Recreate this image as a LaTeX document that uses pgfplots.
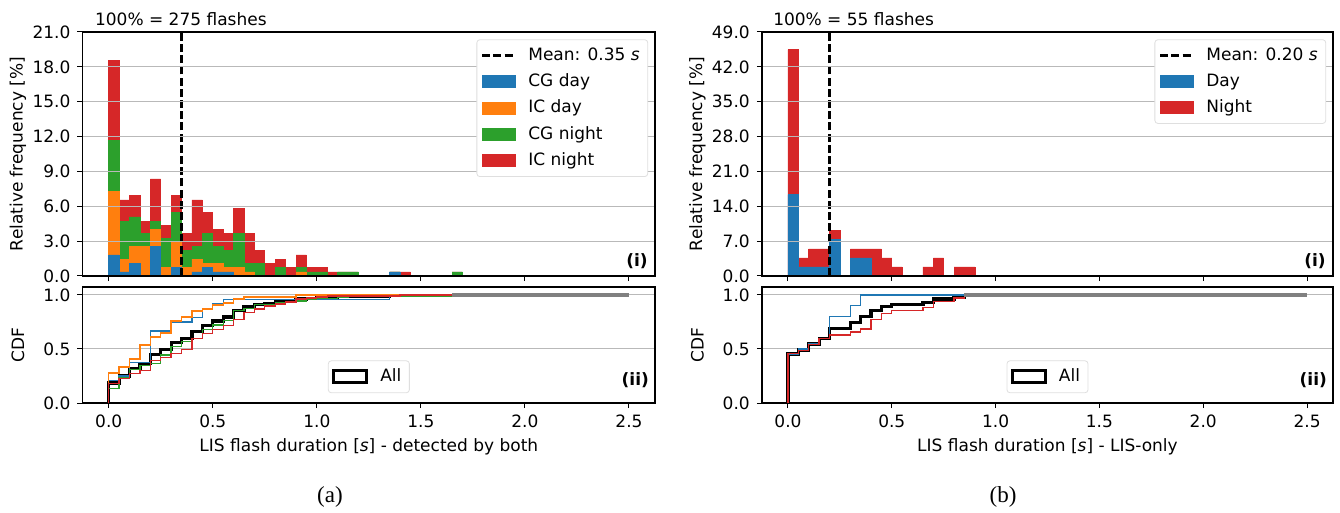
\documentclass[border=0pt]{standalone}
\usepackage{pgfplots}
\usepackage{pgfplotstable}
\pgfplotsset{compat=1.18}
\usepackage{fontspec}
\setmainfont{DejaVu Sans}
\newfontfamily\capfont{Liberation Serif}
\definecolor{tabblue}{HTML}{1F77B4}
\definecolor{taborange}{HTML}{FF7F0E}
\definecolor{tabgreen}{HTML}{2CA02C}
\definecolor{tabred}{HTML}{D62728}
\newcommand\fs{\fontsize{8.5}{10}\selectfont}

% stacked tops (cumulative) of the left histogram, in percent of 275 flashes
\pgfplotstableread{
x      b     bo    bog   tot
0.025  1.82  7.27  11.64 18.55
0.075  0.36  1.45  4.73  6.55
0.125  1.09  2.55  5.09  6.91
0.175  0     2.55  3.64  4.73
0.225  2.55  4.00  4.73  8.36
0.275  0     0.73  3.27  4.36
0.325  0.73  2.91  5.45  6.91
0.375  0     0.73  2.18  3.64
0.425  0.36  1.45  2.55  6.55
0.475  0.73  1.09  3.64  5.45
0.525  0.36  1.09  2.55  4.00
0.575  0.36  0.73  2.18  3.64
0.625  0     0.73  3.64  5.82
0.675  0     0.36  1.09  3.64
0.725  0     0     1.09  2.18
0.775  0     0     0     1.09
0.825  0     0     0.73  1.45
0.875  0     0     0     0.73
0.925  0     0.36  0.73  1.82
0.975  0     0     0.36  0.73
1.025  0     0     0.36  0.73
1.075  0     0     0     0.36
1.125  0     0     0.36  0.36
1.175  0     0     0.36  0.36
1.375  0.36  0.36  0.36  0.36
1.425  0     0     0     0.36
1.675  0     0     0.36  0.36
}\lefthist

% stacked tops of the right histogram, in percent of 55 flashes
\pgfplotstableread{
x      d      tot
0.025  16.36  45.45
0.075  1.82   3.64
0.125  1.82   5.45
0.175  1.82   5.45
0.225  7.27   9.09
0.325  3.64   5.45
0.375  3.64   5.45
0.425  0      5.45
0.475  0      3.64
0.525  0      1.82
0.675  0      1.82
0.725  0      3.64
0.825  0      1.82
0.875  0      1.82
}\righthist

\pgfplotsset{
  mpl/.style={
    scale only axis, anchor=north west, clip=false,
    xmin=-0.125, xmax=2.625,
    xtick={0,0.5,1,1.5,2,2.5},
    tick align=outside, xtick pos=left, ytick pos=left,
    major tick length=2.6pt,
    every tick/.style={black, line width=0.5pt},
    axis line style={line width=0.6pt},
    ymajorgrids, grid style={gray!55, line width=0.5pt},
    tick label style={font=\fs},
    label style={font=\fs},
    /pgf/number format/assume math mode=true,
    /pgf/number format/fixed,
    /pgf/number format/fixed zerofill,
    /pgf/number format/precision=1,
    ylabel style={at={(axis description cs:-0.113,0.5)}, anchor=center},
    legend cell align=left,
    legend style={font=\fs, draw=gray!25, rounded corners=1.5pt, fill=white,
      inner xsep=2pt, inner ysep=2pt, row sep=1.2pt,
      /tikz/every odd column/.append style={column sep=4pt}},
  },
  hist/.style={ybar, bar width=0.05, bar shift=0pt, forget plot, line width=0.3pt},
  cdf/.style={const plot, line width=0.65pt, forget plot},
}

\begin{document}
\begin{tikzpicture}
\path[use as bounding box] (0,0) rectangle (670pt,-256.5pt);

% ---------------- (a) top histogram ----------------
\begin{axis}[mpl, axis on top, at={(41.35pt,-16pt)}, width=286.15pt, height=122pt,
  ymin=0, ymax=21, ytick={0,3,...,21}, xticklabel={\phantom{0}},
  ylabel={Relative frequency [\%]},
  legend style={at={(rel axis cs:0.988,0.97)}, anchor=north east}]
\addplot[hist, fill=tabred, draw=tabred] table[x=x, y=tot] {\lefthist};
\addplot[hist, fill=tabgreen, draw=tabgreen] table[x=x, y=bog] {\lefthist};
\addplot[hist, fill=taborange, draw=taborange] table[x=x, y=bo] {\lefthist};
\addplot[hist, fill=tabblue, draw=tabblue] table[x=x, y=b] {\lefthist};
\addplot[black, line width=1.25pt, dash pattern=on 4pt off 1.6pt, forget plot] coordinates {(0.35,0) (0.35,21)};
\addlegendimage{legend image code/.code={\draw[sharp corners, black, line width=1.25pt, dash pattern=on 4pt off 1.6pt] (0pt,0pt) -- (16.5pt,0pt);}}
\addlegendentry{Mean: 0.35 \textit{s}}
\addlegendimage{legend image code/.code={\fill[sharp corners, tabblue] (0pt,-3pt) rectangle (16.5pt,3pt);}}
\addlegendentry{CG day}
\addlegendimage{legend image code/.code={\fill[sharp corners, taborange] (0pt,-3pt) rectangle (16.5pt,3pt);}}
\addlegendentry{IC day}
\addlegendimage{legend image code/.code={\fill[sharp corners, tabgreen] (0pt,-3pt) rectangle (16.5pt,3pt);}}
\addlegendentry{CG night}
\addlegendimage{legend image code/.code={\fill[sharp corners, tabred] (0pt,-3pt) rectangle (16.5pt,3pt);}}
\addlegendentry{IC night}
\node[anchor=base west, font=\fs, inner sep=0pt] at (rel axis cs:0.021,1.0246) {100\% = 275 flashes};
\node[anchor=east, font=\fs\bfseries, inner sep=0pt] at (rel axis cs:0.988,0.062) {(i)};
\end{axis}

% ---------------- (a) bottom CDF ----------------
\begin{axis}[mpl, at={(41.35pt,-143.5pt)}, width=286.15pt, height=58pt,
  ymin=0, ymax=1.074, ytick={0,0.5,1},
  xlabel={LIS flash duration [\textit{s}] - detected by both},
  xlabel style={at={(axis description cs:0.5,-0.38)}, anchor=center},
  ylabel={CDF},
  legend style={at={(rel axis cs:0.5,0.085)}, anchor=south}]
\addplot[cdf, black, line width=1.6pt] coordinates {(0,0)(0,0.1855)(0.05,0.2509)(0.1,0.32)(0.15,0.3673)(0.2,0.4509)(0.25,0.4945)(0.3,0.5636)(0.35,0.6)(0.4,0.6655)(0.45,0.72)(0.5,0.76)(0.55,0.7964)(0.6,0.8545)(0.65,0.8909)(0.7,0.9127)(0.75,0.9236)(0.8,0.9382)(0.85,0.9455)(0.9,0.9636)(0.95,0.9709)(1.0,0.9782)(1.05,0.9818)(1.1,0.9855)(1.15,0.9891)(1.35,0.9927)(1.4,0.9964)(1.65,1)};
\addplot[cdf, tabblue] coordinates {(0,0)(0,0.2083)(0.05,0.25)(0.1,0.375)(0.2,0.6667)(0.3,0.75)(0.4,0.7917)(0.45,0.875)(0.5,0.9167)(0.55,0.9583)(1.35,1)(2.5,1)};
\addplot[cdf, taborange] coordinates {(0,0)(0,0.2778)(0.05,0.3333)(0.1,0.4074)(0.15,0.5370)(0.2,0.6111)(0.25,0.6481)(0.3,0.7593)(0.35,0.7963)(0.4,0.8519)(0.45,0.8704)(0.5,0.9074)(0.55,0.9259)(0.6,0.9630)(0.65,0.9815)(0.9,1)(2.5,1)};
\addplot[cdf, tabgreen] coordinates {(0,0)(0,0.1333)(0.05,0.2333)(0.1,0.3111)(0.15,0.3444)(0.2,0.3667)(0.25,0.4444)(0.3,0.5222)(0.35,0.5667)(0.4,0.6)(0.45,0.6778)(0.5,0.7222)(0.55,0.7667)(0.6,0.8556)(0.65,0.8778)(0.7,0.9111)(0.8,0.9333)(0.9,0.9444)(0.95,0.9556)(1.0,0.9667)(1.1,0.9778)(1.15,0.9889)(1.65,1)(2.5,1)};
\addplot[cdf, tabred] coordinates {(0,0)(0,0.1776)(0.05,0.2243)(0.1,0.2710)(0.15,0.2991)(0.2,0.3925)(0.25,0.4206)(0.3,0.4579)(0.35,0.4953)(0.4,0.5981)(0.45,0.6449)(0.5,0.6822)(0.55,0.7196)(0.6,0.7757)(0.65,0.8411)(0.7,0.8692)(0.75,0.8972)(0.8,0.9159)(0.85,0.9346)(0.9,0.9626)(0.95,0.9720)(1.0,0.9813)(1.05,0.9907)(1.4,1)(2.5,1)};
\addplot[cdf, gray, line width=1.6pt] coordinates {(1.65,1)(2.5,1)};
\addlegendimage{legend image code/.code={\draw[sharp corners, black, line width=1.5pt] (0pt,-3pt) rectangle (16.5pt,3pt);}}
\addlegendentry{All}
\node[anchor=east, font=\fs\bfseries, inner sep=0pt] at (rel axis cs:0.99,0.2) {(ii)};
\end{axis}

% ---------------- (b) top histogram ----------------
\begin{axis}[mpl, axis on top, at={(381pt,-16pt)}, width=285.5pt, height=122pt,
  ymin=0, ymax=49, ytick={0,7,...,49}, xticklabel={\phantom{0}},
  ylabel={Relative frequency [\%]},
  legend style={at={(rel axis cs:0.988,0.97)}, anchor=north east}]
\addplot[hist, fill=tabred, draw=tabred] table[x=x, y=tot] {\righthist};
\addplot[hist, fill=tabblue, draw=tabblue] table[x=x, y=d] {\righthist};
\addplot[black, line width=1.25pt, dash pattern=on 4pt off 1.6pt, forget plot] coordinates {(0.20,0) (0.20,49)};
\addlegendimage{legend image code/.code={\draw[sharp corners, black, line width=1.25pt, dash pattern=on 4pt off 1.6pt] (0pt,0pt) -- (16.5pt,0pt);}}
\addlegendentry{Mean: 0.20 \textit{s}}
\addlegendimage{legend image code/.code={\fill[sharp corners, tabblue] (0pt,-3pt) rectangle (16.5pt,3pt);}}
\addlegendentry{Day}
\addlegendimage{legend image code/.code={\fill[sharp corners, tabred] (0pt,-3pt) rectangle (16.5pt,3pt);}}
\addlegendentry{Night}
\node[anchor=base west, font=\fs, inner sep=0pt] at (rel axis cs:0.019,1.0246) {100\% = 55 flashes};
\node[anchor=east, font=\fs\bfseries, inner sep=0pt] at (rel axis cs:0.988,0.062) {(i)};
\end{axis}

% ---------------- (b) bottom CDF ----------------
\begin{axis}[mpl, at={(381pt,-143.5pt)}, width=285.5pt, height=58pt,
  ymin=0, ymax=1.074, ytick={0,0.5,1},
  xlabel={LIS flash duration [\textit{s}] - LIS-only},
  xlabel style={at={(axis description cs:0.5,-0.38)}, anchor=center},
  ylabel={CDF},
  legend style={at={(rel axis cs:0.5,0.085)}, anchor=south}]
\addplot[cdf, black, line width=1.6pt] coordinates {(0,0)(0,0.4545)(0.05,0.4909)(0.1,0.5455)(0.15,0.6)(0.2,0.6909)(0.3,0.7455)(0.35,0.8)(0.4,0.8545)(0.45,0.8909)(0.5,0.9091)(0.65,0.9273)(0.7,0.9636)(0.8,0.9818)(0.85,1)};
\addplot[cdf, tabblue] coordinates {(0,0)(0,0.45)(0.05,0.5)(0.1,0.55)(0.15,0.6)(0.2,0.8)(0.3,0.9)(0.35,1)(2.5,1)};
\addplot[cdf, tabred] coordinates {(0,0)(0,0.4571)(0.05,0.4857)(0.1,0.5429)(0.15,0.6)(0.2,0.6286)(0.3,0.6571)(0.35,0.6857)(0.4,0.7714)(0.45,0.8286)(0.5,0.8571)(0.65,0.8857)(0.7,0.9429)(0.8,0.9714)(0.85,1)(2.5,1)};
\addplot[cdf, gray, line width=1.6pt] coordinates {(0.85,1)(2.5,1)};
\addlegendimage{legend image code/.code={\draw[sharp corners, black, line width=1.5pt] (0pt,-3pt) rectangle (16.5pt,3pt);}}
\addlegendentry{All}
\node[anchor=east, font=\fs\bfseries, inner sep=0pt] at (rel axis cs:0.99,0.2) {(ii)};
\end{axis}

\node[font=\capfont\fontsize{11.5}{13}\selectfont] at (165pt,-248.5pt) {(a)};
\node[font=\capfont\fontsize{11.5}{13}\selectfont] at (501.5pt,-248.5pt) {(b)};
\end{tikzpicture}
\end{document}
